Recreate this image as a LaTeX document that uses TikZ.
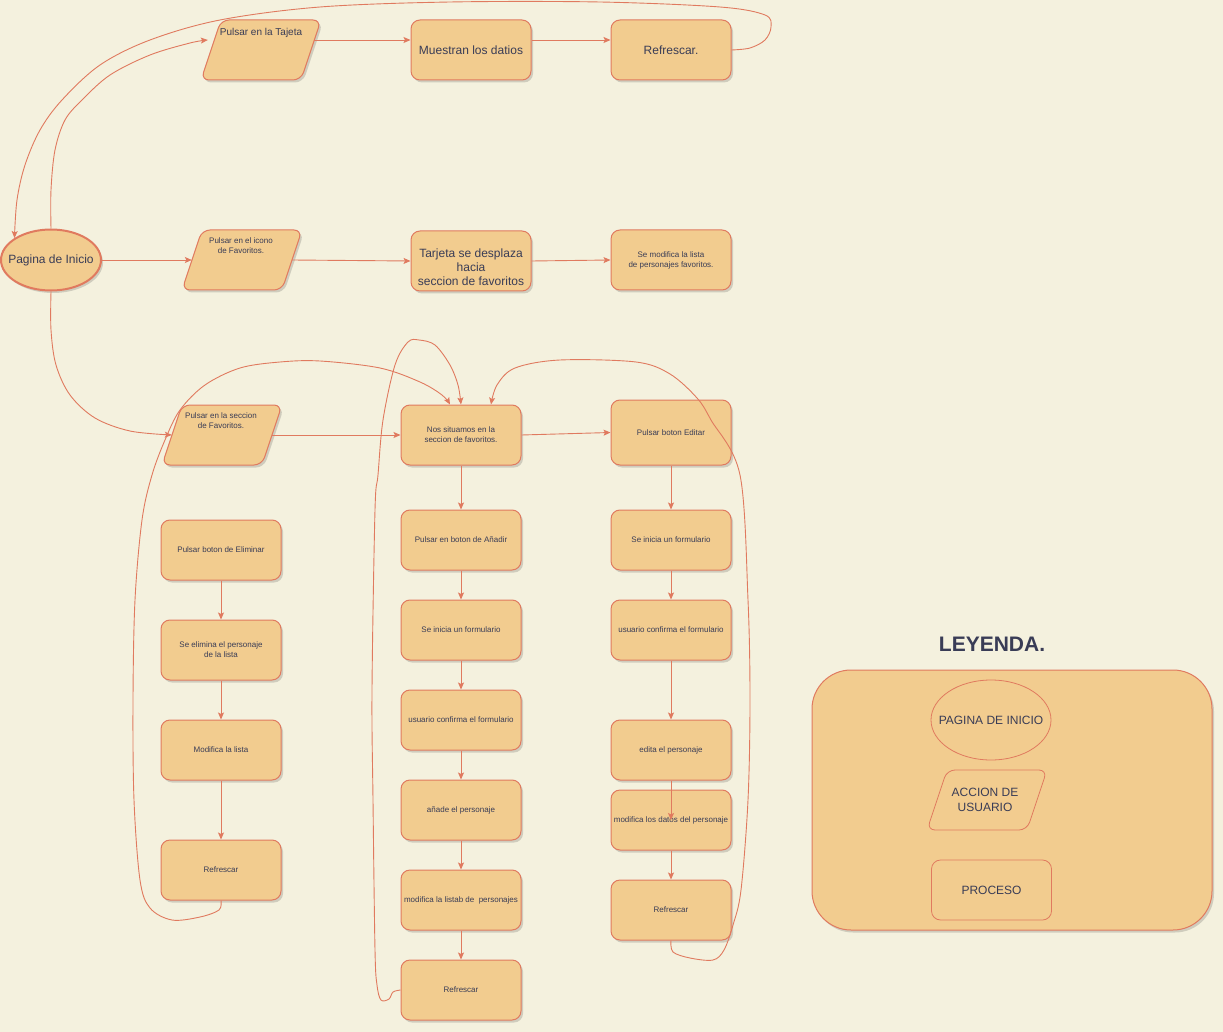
\documentclass[tikz,border=0pt]{standalone}
\usepackage{fontspec}
\setmainfont{Liberation Sans}
\usetikzlibrary{shadows,arrows.meta,calc,shapes.geometric}
\definecolor{bgc}{HTML}{F4F1DE}
\definecolor{fillc}{HTML}{F2CC8F}
\definecolor{strokec}{HTML}{E07A5F}
\definecolor{txtc}{HTML}{393C56}
\newcommand{\parashape}[2][]{\filldraw[draw=strokec,fill=fillc,line width=1pt,rounded corners=8pt,#1] ($(#2.center)+(-40,-30)$) -- ($(#2.center)+(60,-30)$) -- ($(#2.center)+(40,30)$) -- ($(#2.center)+(-60,30)$) -- cycle;}
\begin{document}
\begin{tikzpicture}[x=1pt,y=-1pt,
 shadowed/.style={drop shadow={shadow xshift=2pt,shadow yshift=-2.5pt,opacity=0.22,fill=black!70}},
 procbox/.style={draw=strokec,fill=fillc,line width=1pt,rounded corners=9pt,minimum width=120pt,minimum height=60pt,inner sep=1pt,align=center,text=txtc,font=\fontsize{8}{10}\selectfont,shadowed},
 bigbox/.style={procbox,font=\fontsize{12}{14}\selectfont},
 paranode/.style={minimum width=100pt,minimum height=60pt,inner sep=0pt},
 lbl/.style={text=txtc,font=\fontsize{8}{10}\selectfont,align=center,inner sep=0pt},
 link/.style={draw=strokec,line width=0.9pt,-{Stealth[length=7pt,width=6pt,inset=1.5pt]}},
 curvelink/.style={link,smooth,tension=0.55}
]
\fill[bgc] (0,0) rectangle (1223,1032);
\useasboundingbox (0,0) rectangle (1223,1032);

% top row
\node[paranode] (p1) at (261,50) {};
\parashape[shadowed]{p1}
\node[lbl,font=\fontsize{10}{12}\selectfont] (p1t) at (261,33) {Pulsar en la Tajeta};
\node[bigbox] (m1) at (471,50) {Muestran los datios};
\node[bigbox] (r1) at (671,50) {Refrescar.};

% middle row
\node[ellipse,draw=strokec,fill=fillc,line width=2pt,minimum width=100pt,minimum height=61pt,inner sep=0pt,text=txtc,font=\fontsize{12}{14}\selectfont,shadowed] (ini) at (51,260) {\makebox[0pt]{Pagina de Inicio}};
\node[paranode] (p2) at (242,260) {};
\parashape[shadowed]{p2}
\node[lbl] (p2t) at (241,246) {Pulsar en el icono\\de Favoritos.};
\node[bigbox] (t2) at (471,261) {};
\node[lbl,font=\fontsize{12}{14}\selectfont] (t2t) at (471,267) {Tarjeta se desplaza\\hacia\\seccion de favoritos};
\node[procbox] (s2) at (671,260) {Se modifica la lista\\de personajes favoritos.};

% third row
\node[paranode] (p3) at (222,435) {};
\parashape[shadowed]{p3}
\node[lbl] (p3t) at (221,421) {Pulsar en la seccion\\de Favoritos.};
\node[procbox] (c0) at (461,435) {Nos situamos en la\\seccion de favoritos.};
\node[procbox,minimum height=65pt] (e0) at (671,432.5) {Pulsar boton Editar};

% left column
\node[procbox] (l1) at (221,550) {Pulsar boton de Eliminar};
\node[procbox] (l2) at (221,650) {Se elimina el personaje\\de la lista};
\node[procbox] (l3) at (221,750) {Modifica la lista};
\node[procbox] (l4) at (221,870) {Refrescar};

% center column
\node[procbox] (c1) at (461,540) {Pulsar en boton de Añadir};
\node[procbox] (c2) at (461,630) {Se inicia un formulario};
\node[procbox] (c3) at (461,720) {usuario confirma el formulario};
\node[procbox] (c4) at (461,810) {añade el personaje};
\node[procbox] (c5) at (461,900) {modifica la listab de\ \ personajes};
\node[procbox] (c6) at (461,990) {Refrescar};

% right column
\node[procbox] (e1) at (671,540) {Se inicia un formulario};
\node[procbox] (e2) at (671,630) {usuario confirma el formulario};
\node[procbox] (e3) at (671,750) {edita el personaje};
\node[procbox] (e4) at (671,820) {modifica los datos del personaje};
\node[procbox] (e5) at (671,910) {Refrescar};

% legend
\node[draw=strokec,fill=fillc,line width=1pt,rounded corners=39pt,minimum width=400pt,minimum height=260pt,shadowed] (leg) at (1012,800) {};
\node[text=txtc,font=\bfseries\fontsize{21}{24}\selectfont] (legt) at (992,644) {LEYENDA.};
\node[ellipse,draw=strokec,fill=fillc,line width=0.8pt,minimum width=120pt,minimum height=80pt,inner sep=0pt,text=txtc,font=\fontsize{12}{14}\selectfont] (lgi) at (991,720) {\makebox[0pt]{PAGINA DE INICIO}};
\node[paranode] (lga) at (987,800) {};
\parashape[line width=0.8pt]{lga}
\node[lbl,font=\fontsize{12}{15}\selectfont] (lgat) at (985,800) {ACCION DE\\USUARIO};
\node[draw=strokec,fill=fillc,line width=0.8pt,rounded corners=9pt,minimum width=120pt,minimum height=60pt,text=txtc,font=\fontsize{12}{14}\selectfont] (lgp) at (991.5,890) {PROCESO};

% straight connectors
\draw[link] ([xshift=3pt,yshift=10pt]p1.east) -- ([yshift=10pt]m1.west);
\draw[link] ([yshift=10pt]m1.east) -- ([yshift=10pt]r1.west);
\draw[link] (ini.east) -- (p2.west);
\draw[link] (p2.east) -- (t2.west);
\draw[link] (t2.east) -- (s2.west);
\draw[link] (p3.east) -- (c0.west);
\draw[link] (c0.east) -- (e0.west);
\draw[link] (c0.south) -- (c1.north);
\draw[link] (c1.south) -- (c2.north);
\draw[link] (c2.south) -- (c3.north);
\draw[link] (c3.south) -- (c4.north);
\draw[link] (c4.south) -- (c5.north);
\draw[link] (c5.south) -- (c6.north);
\draw[link] (e0.south) -- (e1.north);
\draw[link] (e1.south) -- (e2.north);
\draw[link] (e2.south) -- (e3.north);
\draw[link] (e3.south) -- (e4.center);
\draw[link] (e4.south) -- (e5.north);
\draw[link] (l1.south) -- (l2.north);
\draw[link] (l2.south) -- (l3.north);
\draw[link] (l3.south) -- (l4.north);

% curved connectors
\draw[curvelink] plot coordinates {(r1.east) (750,48) (765,40) (771,27) (765,15) (720,7) (600,2) (450,2) (320,7) (220,20) (150,40) (100,65) (62,100) (40,130) (25,165) (17,200) (ini.149)};
\draw[curvelink] plot coordinates {(ini.north) (51,190) (55,150) (65,120) (82,100) (110,75) (150,55) (190,43) ([xshift=-3pt,yshift=10pt]p1.west)};
\draw[curvelink] plot coordinates {(ini.south) (51,330) (56,365) (70,395) (95,418) (130,431) (p3.west)};
\draw[curvelink] plot coordinates {(l4.south) (219,910) (200,917) (172,920) (150,908) (140,880) (134,800) (133,700) (135,600) (142,520) (152,475) (165,440) (180,410) (205,385) (240,368) (280,362) (320,361) (380,368) (420,382) (442,395) ([xshift=-11pt]c0.north)};
\draw[curvelink] plot coordinates {(c6.west) (393,992) (389,999) (381,1000) (377,985) (375,950) (373,800) (372,690) (375,510) (378,475) (383,420) (395,365) (408,342) (419,340) (435,345) (450,365) (458,385) (c0.north)};
\draw[curvelink] plot coordinates {(e5.south) (673,952) (690,958) (713,960) (724,950) (733,925) (741,890) (748,800) (750,700) (748,600) (740,475) (711,420) (697,398) (670,374) (636,362) (560,360) (515,368) (497,385) ([xshift=30pt]c0.north)};
\end{tikzpicture}
\end{document}
